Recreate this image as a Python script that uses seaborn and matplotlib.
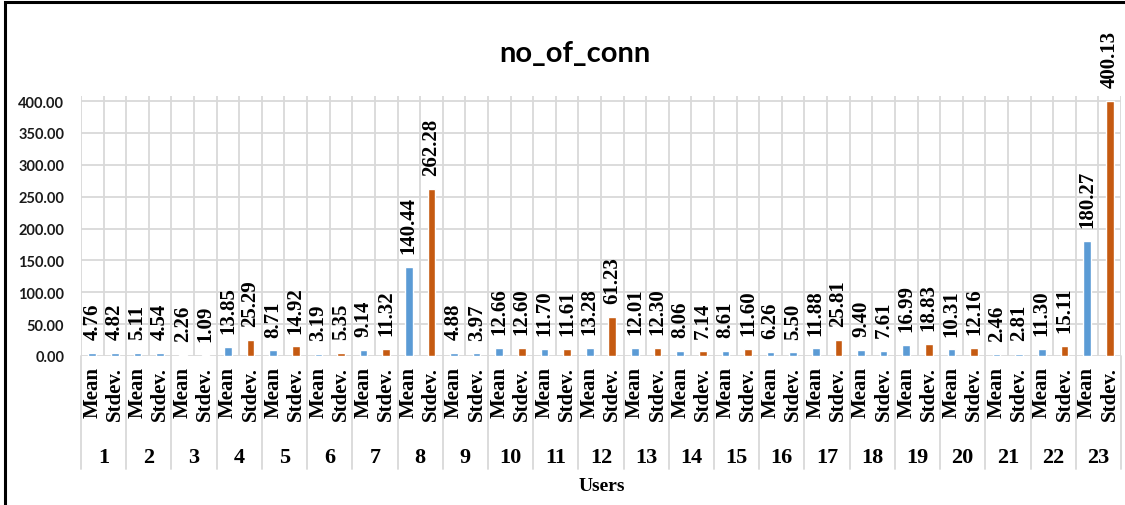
import numpy as np
import pandas as pd
import matplotlib
matplotlib.use("Agg")
import matplotlib.pyplot as plt
import seaborn as sns
from matplotlib.patches import Rectangle
from matplotlib.transforms import blended_transform_factory

# ---------------- data ----------------
users = [str(i) for i in range(1, 24)]
stat_labels = ["Mean", "Stdev."]
mean_vals = [4.76, 5.11, 2.26, 13.85, 8.71, 3.19, 9.14, 140.44, 4.88, 12.66,
             11.70, 13.28, 12.01, 8.06, 8.61, 6.26, 11.88, 9.40, 16.99, 10.31,
             2.46, 11.30, 180.27]
stdev_vals = [4.82, 4.54, 1.09, 25.29, 14.92, 5.35, 11.32, 262.28, 3.97, 12.60,
              11.61, 61.23, 12.30, 7.14, 11.60, 5.50, 25.81, 7.61, 18.83, 12.16,
              2.81, 15.11, 400.13]
y_ticks = [0, 50, 100, 150, 200, 250, 300, 350, 400]
title = "no_of_conn"
x_title = "Users"

# colour of each Stdev. bar as drawn in the source chart
BLUE, ORANGE = "#5B9BD5", "#C55A11"
stdev_fill = [BLUE, BLUE, BLUE, ORANGE, ORANGE, ORANGE, ORANGE, ORANGE, BLUE,
              ORANGE, ORANGE, ORANGE, ORANGE, ORANGE, ORANGE, BLUE, ORANGE,
              BLUE, ORANGE, ORANGE, BLUE, ORANGE, ORANGE]

# ---------------- table ----------------
rows = []
for u, m, s, sc in zip(users, mean_vals, stdev_vals, stdev_fill):
    rows.append({"slot": f"{u} Mean", "stat": stat_labels[0], "value": m, "color": BLUE})
    rows.append({"slot": f"{u} Stdev.", "stat": stat_labels[1], "value": s, "color": sc})
df = pd.DataFrame(rows)
slots = list(df["slot"])
palette = dict(zip(df["slot"], df["color"]))

# ---------------- figure ----------------
sns.set_theme(style="white")
plt.rcParams["font.family"] = ["Liberation Serif", "DejaVu Sans"]

W, H = 1125, 506
fig = plt.figure(figsize=(W / 100, H / 100), dpi=100)
fig.patch.set_facecolor("white")
ax_left, ax_right, ax_zero, ax_top = 81, 1121, 357, 97
ax = fig.add_axes([ax_left / W, (H - ax_zero) / H,
                   (ax_right - ax_left) / W, (ax_zero - ax_top) / H])

sns.barplot(data=df, x="slot", y="value", hue="slot", order=slots,
            palette=palette, legend=False, width=0.34, saturation=1,
            ax=ax, zorder=3)

n = len(slots)
ax.set_xlim(-0.5, n - 0.5)
ax.set_ylim(0, 408)
ax.set_xlabel("")
ax.set_ylabel("")
for sp in ax.spines.values():
    sp.set_visible(False)

grid_c = "#D9D9D9"
# y axis
ax.set_yticks(y_ticks)
ax.set_yticklabels([f"{t:.2f}" for t in y_ticks], fontfamily="Lato",
                   fontweight="bold", fontsize=10.5, color="#1a1a1a")
ax.yaxis.grid(True, color=grid_c, lw=1.3, zorder=0)
# x axis: Mean / Stdev. labels
ax.set_xticks(np.arange(n))
ax.set_xticklabels(list(df["stat"]), rotation=90, fontfamily="Liberation Serif",
                   fontweight="bold", fontsize=15, color="black", va="top")
ax.set_xticks(np.arange(-0.5, n, 1), minor=True)
ax.xaxis.grid(True, which="minor", color=grid_c, lw=1.3, zorder=0)
ax.xaxis.grid(False, which="major")
ax.tick_params(axis="both", which="both", length=0)
ax.tick_params(axis="x", which="major", pad=7)
ax.tick_params(axis="y", pad=12)
ax.set_axisbelow(True)

# group separators and user numbers under the axis
tr = blended_transform_factory(ax.transData, ax.transAxes)
axh = ax_zero - ax_top
for k in range(len(users) + 1):
    ax.plot([2 * k - 0.5] * 2, [0, -(470 - ax_zero) / axh], transform=tr,
            color=grid_c, lw=1.3, clip_on=False, zorder=0)
for k, u in enumerate(users):
    ax.text(2 * k + 0.5, -(458 - ax_zero) / axh, u, transform=tr,
            ha="center", va="center", fontfamily="Liberation Serif",
            fontweight="bold", fontsize=16, color="black")

# value labels
for i, v in enumerate(df["value"]):
    ax.annotate(f"{v:.2f}", (i, v), xytext=(0, 10), textcoords="offset points",
                rotation=90, ha="center", va="bottom",
                fontfamily="Liberation Serif", fontweight="bold", fontsize=15,
                color="black", annotation_clip=False)

# titles
fig.text(602 / W, 1 - 487 / H, x_title, ha="center", va="center",
         fontfamily="Liberation Serif", fontweight="bold", fontsize=14,
         color="black")
fig.text(575 / W, 1 - 62 / H, title, ha="center", va="baseline",
         fontfamily="Lato", fontweight="bold", fontsize=21, color="black")

# outer border (left and top visible)
fig.add_artist(Rectangle((5 / W, -0.1), 2.0, 1.1 - 3 / H,
                         transform=fig.transFigure, fill=False,
                         edgecolor="black", lw=2.2))

fig.savefig("out.png", dpi=100, facecolor="white")
